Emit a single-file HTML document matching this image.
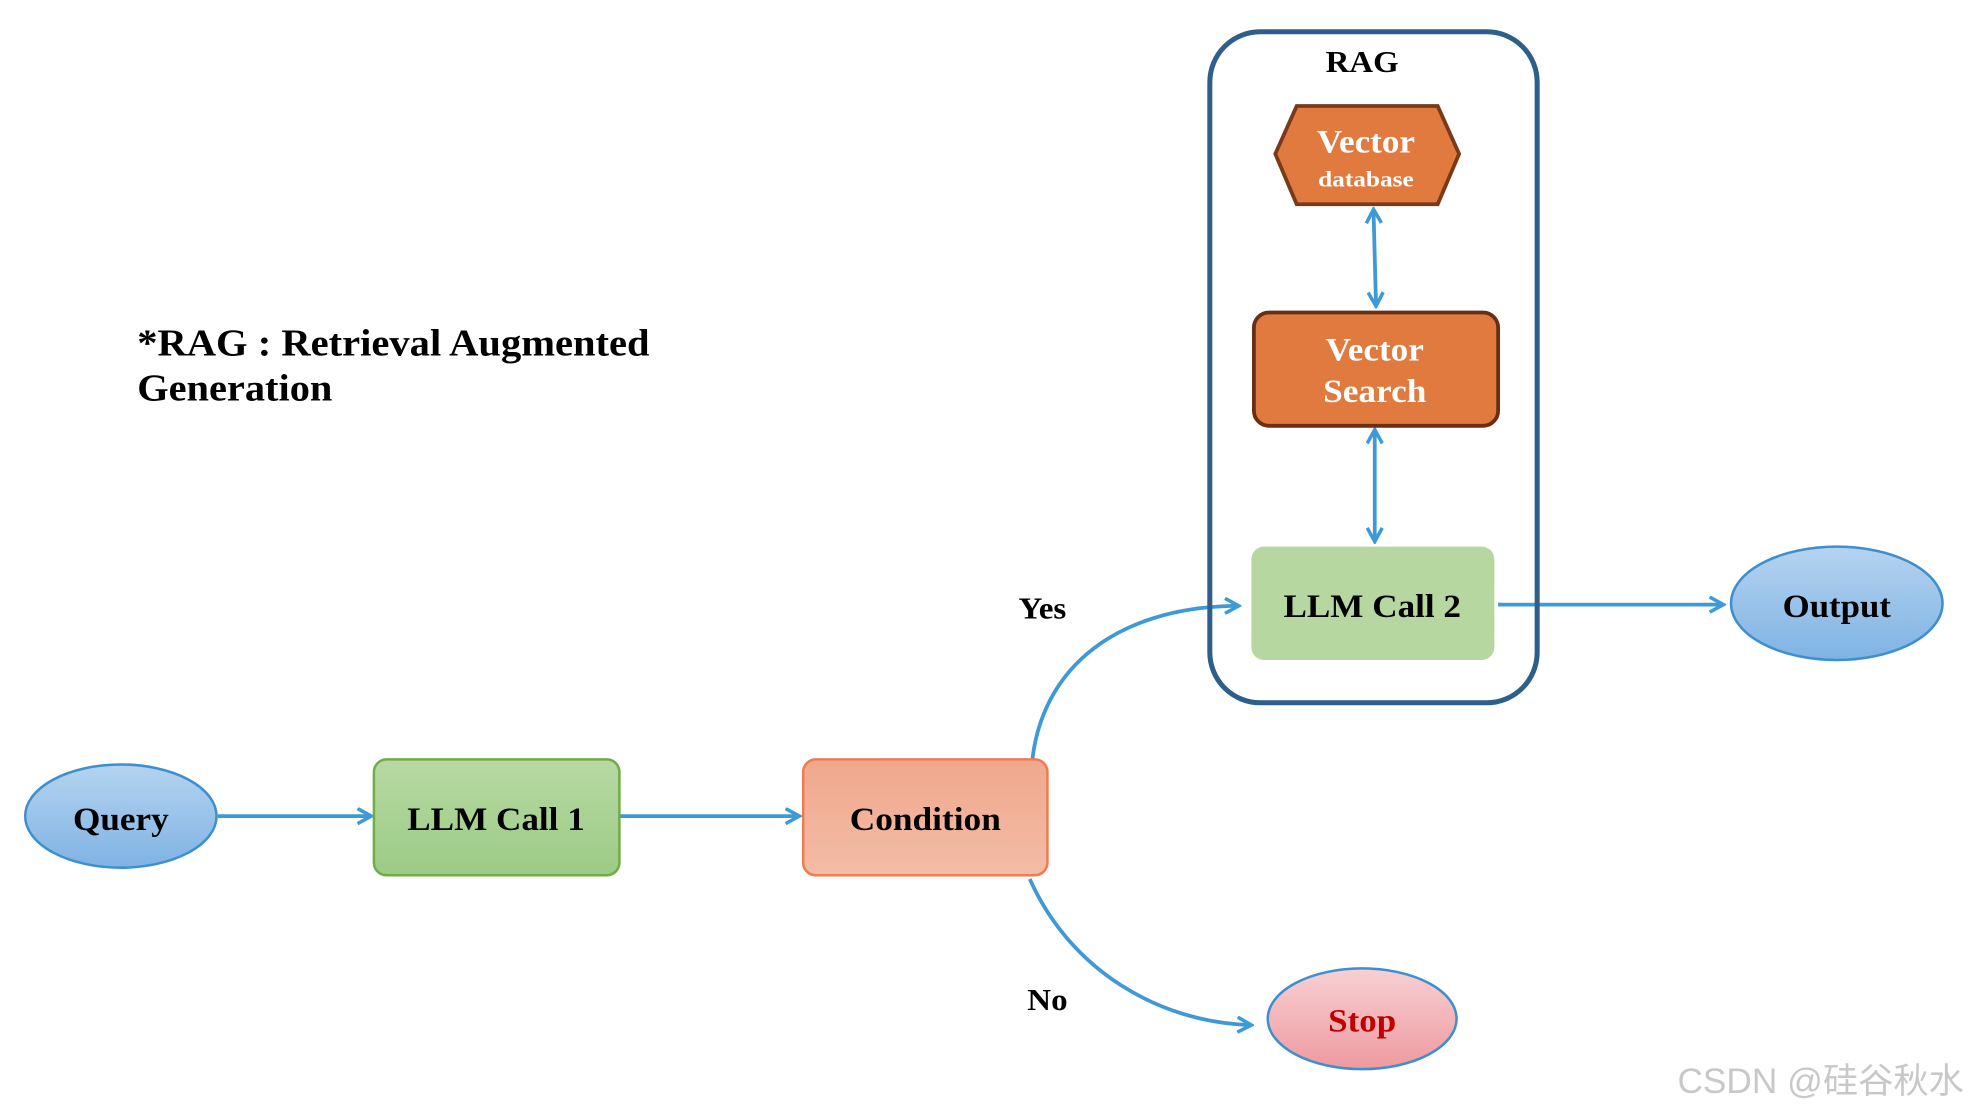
<!DOCTYPE html>
<html><head><meta charset="utf-8"><style>
html,body{margin:0;padding:0;background:#fff;}
svg{display:block;}
text{font-family:"Liberation Serif",serif;font-weight:bold;}
</style></head><body>
<svg width="1974" height="1116" viewBox="0 0 1568 886" xmlns="http://www.w3.org/2000/svg">
<defs>
<linearGradient id="gb" x1="0" y1="0" x2="0" y2="1"><stop offset="0" stop-color="#b5d3f0"/><stop offset="1" stop-color="#7fb3e3"/></linearGradient>
<linearGradient id="gg" x1="0" y1="0" x2="0" y2="1"><stop offset="0" stop-color="#b7d9a3"/><stop offset="1" stop-color="#9ccb85"/></linearGradient>
<linearGradient id="go" x1="0" y1="0" x2="0" y2="1"><stop offset="0" stop-color="#f0a88c"/><stop offset="1" stop-color="#f3bca6"/></linearGradient>
<linearGradient id="gp" x1="0" y1="0" x2="0" y2="1"><stop offset="0" stop-color="#f8d0d3"/><stop offset="1" stop-color="#ee9a9f"/></linearGradient>
<marker id="ah" viewBox="0 0 14 14" refX="12" refY="7" markerWidth="14" markerHeight="14" markerUnits="userSpaceOnUse" orient="auto-start-reverse">
<path d="M1,1 L12,7 L1,13" fill="none" stroke="#3d9ad6" stroke-width="2.8"/></marker>
</defs>
<g stroke="#3d9ad6" stroke-width="3" fill="none">
<line x1="173" y1="648" x2="295" y2="648" marker-end="url(#ah)"/>
<line x1="492" y1="648" x2="635" y2="648" marker-end="url(#ah)"/>
<line x1="1190" y1="480" x2="1369" y2="480" marker-end="url(#ah)"/>
<line x1="1091" y1="166" x2="1093" y2="243" marker-start="url(#ah)" marker-end="url(#ah)"/>
<line x1="1092" y1="341" x2="1092" y2="430" marker-start="url(#ah)" marker-end="url(#ah)"/>
<path d="M820,603 C830,520 900,481 984,481" marker-end="url(#ah)"/>
<path d="M818,698 C850,770 920,812 994,814" marker-end="url(#ah)"/>
</g>
<rect x="961" y="25" width="260" height="533" rx="40" fill="none" stroke="#2e5f8a" stroke-width="4"/>
<text x="1082" y="57" font-size="24" text-anchor="middle" textLength="58" lengthAdjust="spacingAndGlyphs">RAG</text>
<polygon points="1013,122 1030,84 1142,84 1159,122 1142,162 1030,162" fill="#e07a3f" stroke="#7a3a1a" stroke-width="3"/>
<text x="1085" y="121" font-size="26" fill="#fff" text-anchor="middle" textLength="78" lengthAdjust="spacingAndGlyphs">Vector</text>
<text x="1085" y="148" font-size="18" fill="#fff" text-anchor="middle" textLength="76" lengthAdjust="spacingAndGlyphs">database</text>
<rect x="996" y="248" width="194" height="90" rx="12" fill="#e07a3f" stroke="#6b2e10" stroke-width="3"/>
<text x="1092" y="286" font-size="26" fill="#fff" text-anchor="middle" textLength="78" lengthAdjust="spacingAndGlyphs">Vector</text>
<text x="1092" y="319" font-size="26" fill="#fff" text-anchor="middle" textLength="82" lengthAdjust="spacingAndGlyphs">Search</text>
<rect x="994" y="434" width="193" height="90" rx="10" fill="#b6d7a0"/>
<text x="1090" y="490" font-size="26" text-anchor="middle" textLength="141" lengthAdjust="spacingAndGlyphs">LLM Call 2</text>
<ellipse cx="1459" cy="479" rx="84" ry="45" fill="url(#gb)" stroke="#3d8fcf" stroke-width="2"/>
<text x="1459" y="490" font-size="26" text-anchor="middle" textLength="86" lengthAdjust="spacingAndGlyphs">Output</text>
<ellipse cx="96" cy="648" rx="76" ry="41" fill="url(#gb)" stroke="#3d8fcf" stroke-width="2"/>
<text x="96" y="659" font-size="26" text-anchor="middle" textLength="76" lengthAdjust="spacingAndGlyphs">Query</text>
<rect x="297" y="603" width="195" height="92" rx="10" fill="url(#gg)" stroke="#70ad47" stroke-width="2"/>
<text x="394" y="659" font-size="26" text-anchor="middle" textLength="141" lengthAdjust="spacingAndGlyphs">LLM Call 1</text>
<rect x="638" y="603" width="194" height="92" rx="10" fill="url(#go)" stroke="#ed7d51" stroke-width="2"/>
<text x="735" y="659" font-size="26" text-anchor="middle" textLength="120" lengthAdjust="spacingAndGlyphs">Condition</text>
<ellipse cx="1082" cy="809" rx="75" ry="40" fill="url(#gp)" stroke="#3d8fcf" stroke-width="2"/>
<text x="1082" y="819" font-size="26" fill="#c00000" text-anchor="middle" textLength="54" lengthAdjust="spacingAndGlyphs">Stop</text>
<text x="828" y="491" font-size="24" text-anchor="middle" textLength="38" lengthAdjust="spacingAndGlyphs">Yes</text>
<text x="832" y="802" font-size="24" text-anchor="middle" textLength="32" lengthAdjust="spacingAndGlyphs">No</text>
<text x="109" y="282" font-size="30" textLength="407" lengthAdjust="spacingAndGlyphs">*RAG : Retrieval Augmented</text>
<text x="109" y="318" font-size="30" textLength="155" lengthAdjust="spacingAndGlyphs">Generation</text>
<text x="1560" y="868" font-size="28" fill="#c8c8c8" text-anchor="end" style="font-family:'Liberation Sans','Noto Sans CJK SC',sans-serif;font-weight:normal">CSDN @硅谷秋水</text>
</svg>
</body></html>
